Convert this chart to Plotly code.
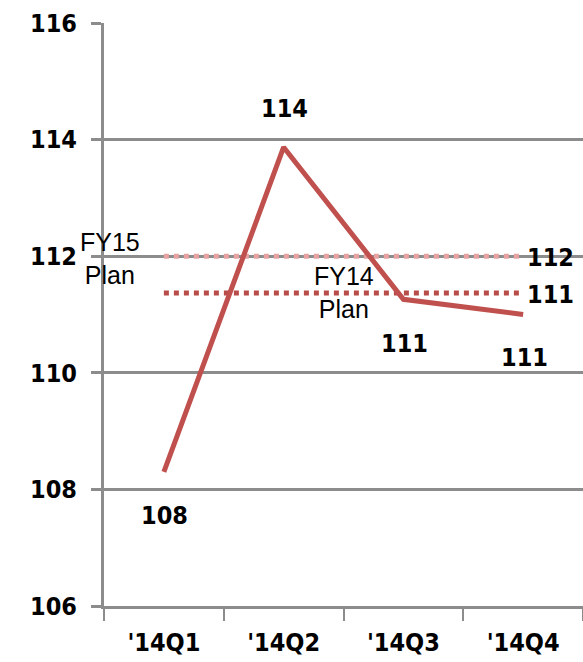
import plotly.graph_objects as go

quarters = ["'14Q1", "'14Q2", "'14Q3", "'14Q4"]
actual = [108.3, 113.87, 111.26, 111.0]
fy15_plan = [112.0, 112.0, 112.0, 112.0]
fy14_plan = [111.37, 111.37, 111.37, 111.37]
y_ticks = [106, 108, 110, 112, 114, 116]
fy15_label = "FY15<br>Plan"
fy14_label = "FY14<br>Plan"

GRID = "#8c8c8c"
LABEL_FONT = dict(family="DejaVu Sans Condensed, DejaVu Sans, sans-serif", size=25, color="black", weight="bold")
PLAIN_FONT = dict(family="Liberation Sans, Arial, sans-serif", size=25, color="black")

fig = go.Figure()
fig.add_trace(go.Scatter(x=quarters, y=fy15_plan, mode="lines",
                         line=dict(color="#e8a2a1", width=5, dash="5px,5px"),
                         hoverinfo="skip", showlegend=False))
fig.add_trace(go.Scatter(x=quarters, y=fy14_plan, mode="lines",
                         line=dict(color="#b84c49", width=5, dash="5px,5px"),
                         hoverinfo="skip", showlegend=False))
fig.add_trace(go.Scatter(x=quarters, y=actual, mode="lines",
                         line=dict(color="#c0504d", width=5),
                         showlegend=False))

annotations = []
shifts = [-44, 39, -44, -43]
for q, v, s in zip(quarters, actual, shifts):
    annotations.append(dict(x=q, y=v, text=f"{v:.0f}", showarrow=False,
                            xanchor="center", yanchor="middle", yshift=s, xshift=1,
                            font=LABEL_FONT))
annotations.append(dict(x=quarters[-1], y=fy15_plan[-1], text=f"{fy15_plan[-1]:.0f}",
                        showarrow=False, xanchor="center", yanchor="middle",
                        xshift=27, yshift=-1, font=LABEL_FONT))
annotations.append(dict(x=quarters[-1], y=fy14_plan[-1], text=f"{fy14_plan[-1]:.0f}",
                        showarrow=False, xanchor="center", yanchor="middle",
                        xshift=27, yshift=-2, font=LABEL_FONT))
annotations.append(dict(x=quarters[0], y=fy15_plan[0], text=fy15_label, showarrow=False,
                        xanchor="center", yanchor="middle", xshift=-54, yshift=-2,
                        font=PLAIN_FONT))
annotations.append(dict(x=1.5, y=fy14_plan[0], text=fy14_label, showarrow=False,
                        xanchor="center", yanchor="middle", font=PLAIN_FONT))

fig.update_layout(
    width=583, height=662,
    margin=dict(l=104, r=0, t=23, b=56),
    paper_bgcolor="white", plot_bgcolor="white",
    annotations=annotations,
    xaxis=dict(type="category", range=[-0.5, 3.5], showgrid=False,
               showline=True, linecolor=GRID, linewidth=3,
               ticks="outside", tickson="boundaries", ticklen=12, tickwidth=2, tickcolor=GRID,
               tickfont=LABEL_FONT, ticklabelstandoff=12, fixedrange=True),
    yaxis=dict(range=[106, 116], tickvals=y_ticks, showgrid=True, gridcolor=GRID, gridwidth=3,
               showline=True, linecolor=GRID, linewidth=3, zeroline=False,
               ticks="outside", ticklen=10, tickwidth=3, tickcolor=GRID,
               tickfont=LABEL_FONT, ticklabelstandoff=9, fixedrange=True),
)

fig.write_html("out.html", config={"displayModeBar": False},
               post_script="document.body.style.margin='0px';document.body.style.overflow='hidden';")
